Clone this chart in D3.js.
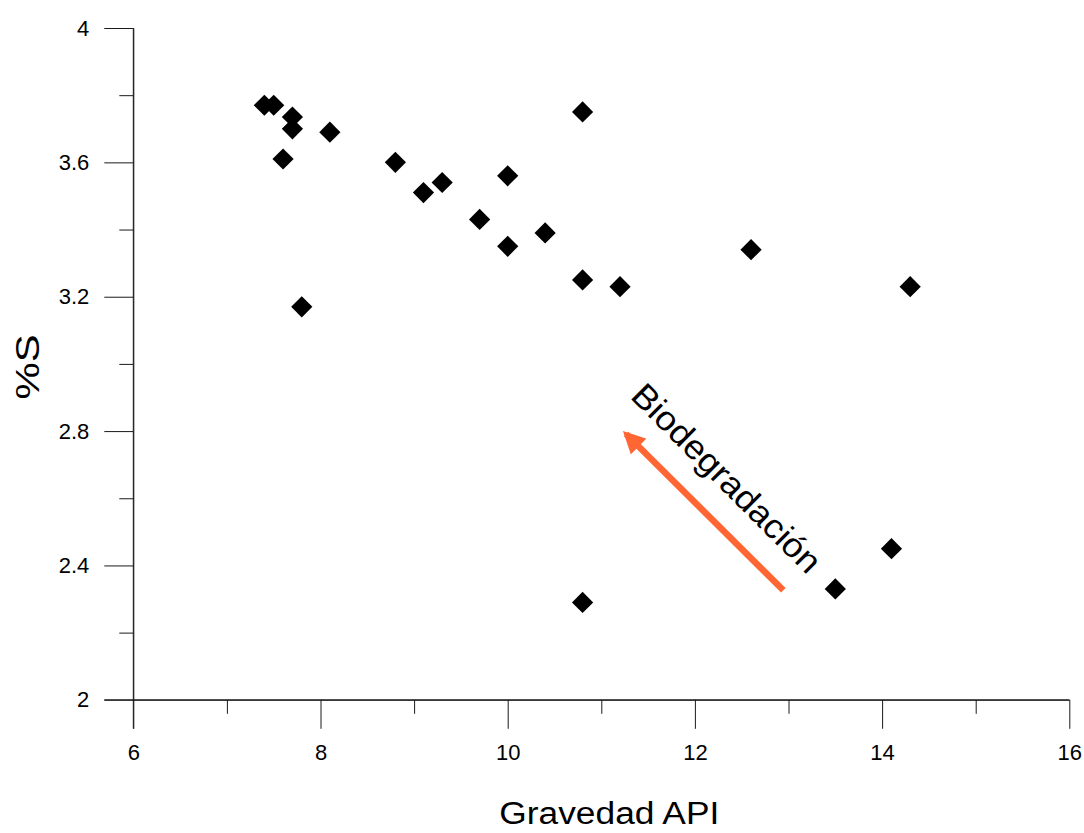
<!DOCTYPE html>
<html>
<head>
<meta charset="utf-8">
<script src="https://cdn.jsdelivr.net/npm/d3@7"></script>
<style>
  html, body { margin: 0; padding: 0; background: #fff; }
  svg { display: block; font-family: "Liberation Sans", Arial, sans-serif; }
</style>
</head>
<body>
<svg id="chart" width="1084" height="833"></svg>
<script>
/* ---------- data ---------- */
const apiGravity = [7.4, 7.5, 7.7, 7.7, 7.6, 7.8, 8.1, 8.8, 9.1, 9.3, 9.7, 10.0, 10.0, 10.4, 10.8, 10.8, 11.2, 12.6, 14.3, 14.1, 13.5, 10.8];
const sulfurPct  = [3.77, 3.77, 3.735, 3.70, 3.61, 3.17, 3.69, 3.60, 3.51, 3.54, 3.43, 3.56, 3.35, 3.39, 3.75, 3.25, 3.23, 3.34, 3.23, 2.45, 2.33, 2.29];

const xMajorTicks = [6, 8, 10, 12, 14, 16];
const xMinorTicks = [7, 9, 11, 13, 15];
const yMajorTicks = [2, 2.4, 2.8, 3.2, 3.6, 4];
const yMinorTicks = [2.2, 2.6, 3.0, 3.4, 3.8];

// annotation: arrow from tail to head, label centre (data units)
const arrowTail = [12.945, 2.326];
const arrowHead = [11.19, 2.812];
const arrowLabel = { text: "Biodegradación", x: 12.25, y: 2.635 };

const xTitle = "Gravedad API";
const yTitle = "%S";

/* ---------- layout ---------- */
const svg = d3.select("#chart");
const x = d3.scaleLinear().domain([6, 16]).range([133.3, 1069.3]);
const y = d3.scaleLinear().domain([2, 4]).range([699.8, 28]);

const axisColor = "#1a1a1a";

// minor ticks first
svg.append("g")
  .attr("transform", `translate(0,${y(2)})`)
  .call(d3.axisBottom(x).tickValues(xMinorTicks).tickSize(14).tickSizeOuter(0).tickFormat(""))
  .call(g => g.select(".domain").remove());

svg.append("g")
  .attr("transform", `translate(${x(6)},0)`)
  .call(d3.axisLeft(y).tickValues(yMinorTicks).tickSize(14).tickSizeOuter(0).tickFormat(""))
  .call(g => g.select(".domain").remove());

// major x axis
const gx = svg.append("g")
  .attr("transform", `translate(0,${y(2)})`)
  .call(d3.axisBottom(x).tickValues(xMajorTicks).tickSize(29).tickSizeOuter(0).tickPadding(16).tickFormat(d3.format("d")));

// major y axis
const gy = svg.append("g")
  .attr("transform", `translate(${x(6)},0)`)
  .call(d3.axisLeft(y).tickValues(yMajorTicks).tickSize(29).tickSizeOuter(0).tickPadding(15).tickFormat(d => String(d)));

[gx, gy].forEach(g => {
  g.attr("font-size", null).attr("font-family", null);
  g.selectAll("line").attr("stroke", axisColor);
  g.select(".domain").attr("stroke", axisColor);
  g.selectAll("text")
    .attr("fill", "#000")
    .style("font-size", "22px")
    .style("font-family", "'Liberation Sans', Arial, sans-serif");
});
svg.selectAll(".tick line").attr("stroke", axisColor);

// axis lines crossing: y axis extends down over x tick at 6, x axis extends left over y tick at 2
svg.append("line")
  .attr("x1", x(6)).attr("x2", x(6))
  .attr("y1", y(4)).attr("y2", y(2) + 29)
  .attr("stroke", axisColor);
svg.append("line")
  .attr("x1", x(6) - 29).attr("x2", x(16))
  .attr("y1", y(2)).attr("y2", y(2))
  .attr("stroke", axisColor);

// axis titles
svg.append("text")
  .attr("x", (x(6) + x(16)) / 2 + 8)
  .attr("y", 824)
  .attr("text-anchor", "middle")
  .attr("textLength", 220)
  .attr("lengthAdjust", "spacingAndGlyphs")
  .style("font-size", "31px")
  .text(xTitle);

svg.append("text")
  .attr("transform", `translate(39,${(y(2) + y(4)) / 2 + 3}) rotate(-90)`)
  .attr("text-anchor", "middle")
  .attr("textLength", 65)
  .attr("lengthAdjust", "spacingAndGlyphs")
  .style("font-size", "34px")
  .text(yTitle);

/* ---------- points ---------- */
const points = apiGravity.map((v, i) => ({ api: v, s: sulfurPct[i] }));
const diamond = d3.symbol().type(d3.symbolSquare).size(225);

svg.append("g")
  .selectAll("path")
  .data(points)
  .join("path")
  .attr("d", diamond)
  .attr("transform", d => `translate(${x(d.api)},${y(d.s)}) rotate(45)`)
  .attr("fill", "#000");

/* ---------- annotation arrow ---------- */
const arrowColor = "#ff6633";
svg.append("defs").append("marker")
  .attr("id", "head")
  .attr("viewBox", "0 0 10 10")
  .attr("refX", 8).attr("refY", 5)
  .attr("markerWidth", 3.4).attr("markerHeight", 3.4)
  .attr("markerUnits", "strokeWidth")
  .attr("orient", "auto")
  .append("path")
  .attr("d", "M0,0 L10,5 L0,10 Z")
  .attr("fill", arrowColor);

svg.append("line")
  .attr("x1", x(arrowTail[0])).attr("y1", y(arrowTail[1]))
  .attr("x2", x(arrowHead[0]) + 7).attr("y2", y(arrowHead[1]) + 7)
  .attr("stroke", arrowColor)
  .attr("stroke-width", 6.5)
  .attr("marker-end", "url(#head)");

svg.append("text")
  .attr("transform", `translate(${x(arrowLabel.x)},${y(arrowLabel.y)}) rotate(45)`)
  .attr("text-anchor", "middle")
  .attr("textLength", 252)
  .attr("lengthAdjust", "spacingAndGlyphs")
  .style("font-size", "34px")
  .attr("fill", "#000")
  .text(arrowLabel.text);
</script>
</body>
</html>
